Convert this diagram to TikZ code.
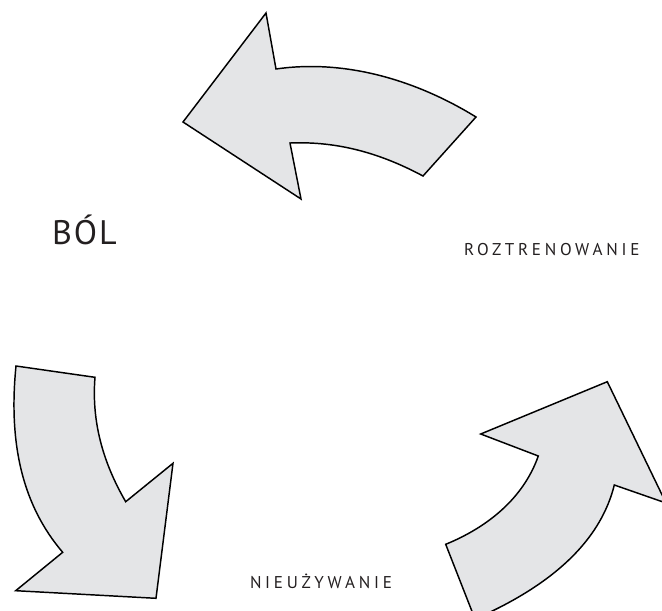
\documentclass[tikz,border=0pt]{standalone}
\usepackage{fontspec}
\setmainfont{PT Sans}
\newfontfamily\spaced[LetterSpace=22]{PT Sans}
\newfontfamily\bigspaced[LetterSpace=6]{PT Sans}
\definecolor{arrowgray}{RGB}{228,229,231}
\definecolor{textgray}{RGB}{35,31,32}

\begin{document}
\begin{tikzpicture}
  [x=0.75pt, y=-0.75pt,
   bigarrow/.style={draw=black, fill=arrowgray, line width=1.1pt, line join=miter},
   every node/.style={inner sep=0pt, outer sep=0pt, anchor=base west, text=textgray},
   small/.style={font=\spaced\fontsize{12.8}{14}\selectfont},
   big/.style={font=\bigspaced\fontsize{25.5}{30}\selectfont}]

  \useasboundingbox (0,0) rectangle (662,611);
  \clip (0,0) rectangle (662,611);

  % top arrow
  \draw[bigarrow] (183,122) -- (266,13) -- (276,69)
     .. controls (345,59) and (416,80) .. (476,117)
     -- (423,176)
     .. controls (381,153.5) and (338,141) .. (290,143)
     -- (301,199) -- cycle;

  % bottom left arrow
  \draw[bigarrow] (16,366) -- (95,377.3)
     .. controls (91.4,422) and (103.2,463) .. (125.7,501.7)
     -- (173,463.3) -- (156,598.3) -- (15.7,590.7) -- (62.7,552.3)
     .. controls (23.7,506.7) and (8,446) .. cycle;

  % bottom right arrow
  \draw[bigarrow] (445.7,544.3)
     .. controls (487.6,527.2) and (523.4,498.3) .. (538.3,456)
     -- (480.7,434) -- (607.3,381.7) -- (666,503) -- (614.3,485)
     .. controls (598,550.7) and (536.6,592) .. (475,619)
     -- cycle;

  \node[big] (bol) at (52,244) {BÓL};
  \node[small] (roztrenowanie) at (464,255) {ROZTRENOWANIE};
  \node[small] (nieuzywanie) at (250,588.3) {NIEUŻYWANIE};
\end{tikzpicture}
\end{document}
